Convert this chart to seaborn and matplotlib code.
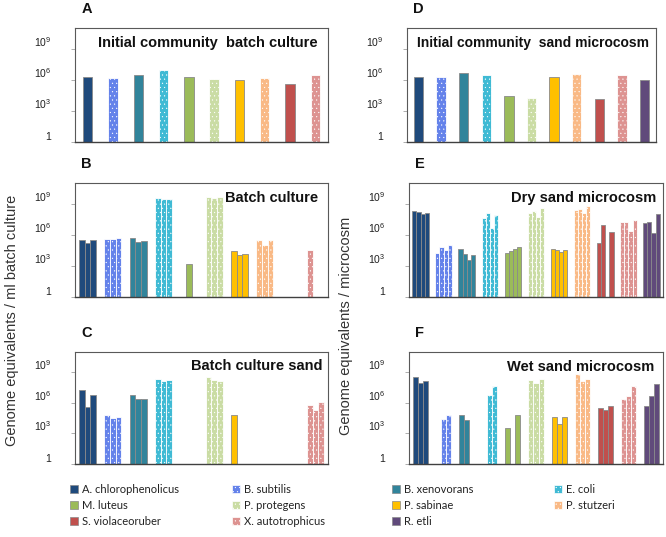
import matplotlib
matplotlib.use("Agg")
import matplotlib.pyplot as plt
from matplotlib.patches import Patch
import numpy as np
import pandas as pd
import seaborn as sns

nan = np.nan

species = [
    "A. chlorophenolicus", "B. subtilis", "B. xenovorans", "E. coli", "M. luteus",
    "P. protegens", "P. sabinae", "P. stutzeri", "S. violaceoruber",
    "X. autotrophicus", "R. etli",
]
colors = [
    "#1F4A7C", "#6482EA", "#31849B", "#3FBAD4", "#9BBB59",
    "#CADCA4", "#FFC000", "#F9B985", "#C0504D", "#DD9391", "#604A7B",
]
hatched = [False, True, False, True, False, True, False, True, False, True, False]

# genome equivalents
init_batch = [1.9e6, 1.5e6, 2.9e6, 8.9e6, 2.0e6, 1.2e6, 1.0e6, 1.5e6, 3.8e5, 2.9e6]
init_sand = [1.9e6, 2.0e6, 4.9e6, 2.9e6, 2.6e4, 1.7e4, 1.9e6, 3.6e6, 1.3e4, 2.9e6, 1.0e6]

batch = [
    [3.2e5, 1.6e5, 3.2e5],
    [4.4e5, 3.8e5, 5.1e5],
    [5.1e5, 2.2e5, 2.6e5],
    [3.7e9, 2.6e9, 3.0e9],
    [nan, 1.7e3, nan],
    [4.7e9, 3.7e9, 4.7e9],
    [2.6e4, 1.1e4, 1.5e4],
    [3.2e5, 1.0e5, 3.2e5],
    [nan, nan, nan],
    [3.3e4, nan, nan],
]
batch_sand = [
    [1.7e7, 4.0e5, 6.5e6],
    [7.1e4, 3.4e4, 4.6e4],
    [6.5e6, 2.6e6, 2.6e6],
    [2.3e8, 1.4e8, 1.7e8],
    [nan, nan, nan],
    [3.2e8, 1.9e8, 1.4e8],
    [5.8e4, nan, nan],
    [nan, nan, nan],
    [nan, nan, nan],
    [6.8e5, 1.9e5, 1.1e6],
]
dry_sand = [
    [2.1e8, 1.5e8, 9.8e7, 1.2e8],
    [1.9e4, 6.2e4, 3.5e4, 1.0e5],
    [4.2e4, 1.3e4, 3.4e3, 1.1e4],
    [3.9e7, 1.2e8, 5.0e6, 8.3e7],
    [1.9e4, 2.9e4, 4.2e4, 6.2e4],
    [1.2e8, 1.8e8, 4.9e7, 3.8e8],
    [4.2e4, 3.3e4, 2.3e4, 3.3e4],
    [2.6e8, 3.0e8, 1.2e8, 5.6e8],
    [1.5e5, 9.8e6, nan, 1.9e6],
    [1.8e7, 1.8e7, 2.2e6, 2.7e7],
    [1.5e7, 1.8e7, 1.5e6, 9.8e7],
]
wet_sand = [
    [3.2e8, 1.0e8, 1.3e8],
    [nan, 2.9e4, 5.8e4],
    [5.8e4, 2.3e4, nan],
    [nan, 6.5e6, 4.9e7],
    [3.1e3, nan, 7.1e4],
    [1.9e8, 1.0e8, 2.3e8],
    [3.9e4, 8.7e3, 3.9e4],
    [7.2e8, 1.3e8, 2.3e8],
    [3.0e5, 2.2e5, 5.4e5],
    [2.6e6, 4.4e6, 4.2e7],
    [4.7e5, 5.1e6, 7.6e7],
]

sns.set_style("white")
plt.rcParams["font.family"] = ["Liberation Sans", "DejaVu Sans"]
plt.rcParams["mathtext.fontset"] = "custom"
plt.rcParams["mathtext.rm"] = "Liberation Sans"
plt.rcParams["hatch.linewidth"] = 0.3

EDGE = "#8A8A8A"
HATCH = "...."


def long_df(values, names):
    rows = []
    for sp, reps in zip(names, values):
        if not isinstance(reps, list):
            reps = [reps]
        for i, v in enumerate(reps):
            rows.append({"species": sp, "rep": f"r{i + 1}", "value": v})
    return pd.DataFrame(rows)


def style_bars(ax):
    for p in ax.patches:
        k = int(round(p.get_x() + p.get_width() / 2))
        p.set_facecolor(colors[k])
        p.set_edgecolor(EDGE)
        p.set_linewidth(0.6)
        if hatched[k]:
            p.set_hatch(HATCH)
            try:
                p.set_hatchcolor("white")
            except AttributeError:
                p.set_edgecolor("white")


def draw_panel(ax, values, n_sp, n_rep, width, letter, title, tx, ty, ha, tsize=10.5):
    names = species[:n_sp]
    df = long_df(values, names).dropna()
    reps = [f"r{i + 1}" for i in range(n_rep)]
    if n_rep == 1:
        sns.barplot(data=df, x="species", y="value", order=names, width=width,
                    errorbar=None, ax=ax)
    else:
        sns.barplot(data=df, x="species", y="value", hue="rep", order=names,
                    hue_order=reps, dodge=True, width=width, errorbar=None,
                    legend=False, ax=ax)
    style_bars(ax)
    ax.set_yscale("log")
    ax.set_ylim(1, 1e11)
    ax.set_xlim(-0.5, n_sp - 0.5)
    ax.set_yticks([1, 1e3, 1e6, 1e9])
    ax.set_yticklabels(["1", "$10^3$", "$10^6$", "$10^9$"])
    ax.minorticks_off()
    ax.set_xticks([])
    ax.set_xlabel("")
    ax.set_ylabel("")
    ax.tick_params(axis="y", length=3, width=0.6, color="#A0A0A0", pad=14,
                   labelsize=7.5, labelcolor="#202020", left=True)
    for lab in ax.get_yticklabels():
        lab.set_va("bottom")
    for side in ["top", "left", "right"]:
        ax.spines[side].set_color("#595959")
        ax.spines[side].set_linewidth(0.8)
    ax.spines["bottom"].set_color("#404040")
    ax.spines["bottom"].set_linewidth(1.0)
    ax.text(tx, ty, title, transform=ax.transAxes, ha=ha, va="center",
            fontsize=tsize, fontweight="bold", color="#111111")
    ax.text(0.025, 1.17, letter, transform=ax.transAxes, ha="left", va="center",
            fontsize=10.5, fontweight="bold", color="#111111")


fig = plt.figure(figsize=(6.66, 5.37), dpi=100)
W, H = 666, 537


def box(l, r, t, b):
    return [l / W, 1 - b / H, (r - l) / W, (b - t) / H]


axA = fig.add_axes(box(75, 328, 28, 142))
axB = fig.add_axes(box(75, 328, 183, 297))
axC = fig.add_axes(box(75, 328, 352, 464))
axD = fig.add_axes(box(407, 656, 28, 142))
axE = fig.add_axes(box(409, 663, 183, 297))
axF = fig.add_axes(box(409, 663, 352, 464))

draw_panel(axA, init_batch, 10, 1, 0.37, "A", "Initial community  batch culture",
           0.524, 0.868, "center")
draw_panel(axB, batch, 10, 3, 0.67, "B", "Batch culture", 0.96, 0.868, "right")
draw_panel(axC, batch_sand, 10, 3, 0.67, "C", "Batch culture sand", 0.98, 0.875, "right")
draw_panel(axD, init_sand, 11, 1, 0.41, "D", "Initial community  sand microcosm",
           0.505, 0.868, "center", tsize=10)
draw_panel(axE, dry_sand, 11, 4, 0.72, "E", "Dry sand microcosm", 0.972, 0.868, "right")
draw_panel(axF, wet_sand, 11, 3, 0.65, "F", "Wet sand microcosm", 0.964, 0.87, "right")

fig.text(12 / W, 1 - 320 / H, "Genome equivalents / ml batch culture", rotation=90,
         ha="center", va="center", fontsize=10.5, color="#333333")
fig.text(346 / W, 1 - 326 / H, "Genome equivalents / microcosm", rotation=90,
         ha="center", va="center", fontsize=10.5, color="#333333")

# legend: four fixed-width columns like the spreadsheet original
handles = []
for c, h in zip(colors, hatched):
    p = Patch(facecolor=c, edgecolor=EDGE, linewidth=0.5, hatch=HATCH if h else None)
    if h:
        try:
            p.set_hatchcolor("white")
        except AttributeError:
            p.set_edgecolor("white")
    handles.append(p)

columns = [[0, 4, 8], [1, 5, 9], [2, 6, 10], [3, 7]]
col_x = [70, 232, 392, 554]
for idx, x in zip(columns, col_x):
    leg = fig.legend([handles[i] for i in idx], [species[i] for i in idx],
                     loc="upper left", bbox_to_anchor=(x / W, 1 - 484 / H),
                     frameon=False, borderpad=0, borderaxespad=0,
                     handlelength=0.75, handleheight=0.75, handletextpad=0.3,
                     labelspacing=0.45, prop={"family": "Lato", "size": 8})
    for t in leg.get_texts():
        t.set_color("#222222")

fig.savefig("out.png", dpi=100)
